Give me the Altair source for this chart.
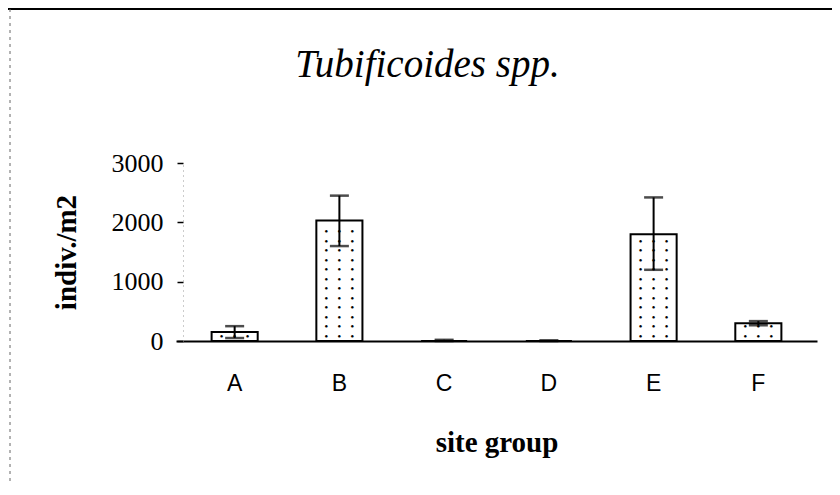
import altair as alt
import pandas as pd

# data
groups = ["A", "B", "C", "D", "E", "F"]
means = [150, 2030, 0, 0, 1800, 300]
err_lo = [50, 1600, 0, 0, 1200, 265]
err_hi = [250, 2450, 20, 10, 2420, 335]
y_ticks = [0, 1000, 2000, 3000]
title_text = "Tubificoides spp."

df = pd.DataFrame({"group": groups, "mean": means, "lo": err_lo, "hi": err_hi})

# stipple dots derived from bar heights
dot_rows = []
for g, m in zip(groups, means):
    level = 90
    while level < m - 40:
        dot_rows.append({"group": g, "lev": level})
        level += 160
dots = pd.DataFrame(dot_rows)

W, H = 641, 178
serif = "Liberation Serif"
sans = "Liberation Sans"

x = alt.X(
    "group:N",
    sort=groups,
    scale=alt.Scale(paddingInner=0.56, paddingOuter=0.34),
    axis=alt.Axis(
        title="site group",
        titleFont=serif,
        titleFontSize=29,
        titleFontWeight="bold",
        titleColor="black",
        titlePadding=33,
        labelFont=sans,
        labelFontSize=23,
        labelColor="black",
        labelAngle=0,
        labelPadding=31,
        ticks=False,
        grid=False,
        domainColor="black",
        domainWidth=2,
    ),
)

y = alt.Y(
    "mean:Q",
    scale=alt.Scale(domain=[0, 3000], nice=False),
    axis=alt.Axis(
        title="indiv./m2",
        titleFont=serif,
        titleFontSize=29,
        titleFontWeight="bold",
        titleColor="black",
        titlePadding=30,
        values=y_ticks,
        format="d",
        labelFont=serif,
        labelFontSize=26,
        labelColor="black",
        labelPadding=14,
        tickColor="black",
        tickSize=6,
        tickWidth=1.5,
        domainColor="#999999",
        domainDash=[1, 4],
        domainWidth=1,
        grid=False,
        offset=-7,
    ),
)

xs = alt.X("group:N", sort=groups)
base = alt.Chart(df)

bars = base.mark_bar(fill="white", stroke="black", strokeWidth=2).encode(x=x, y=y)

dot_layers = []
for dxv in (-13, 0, 13):
    dot_layers.append(
        alt.Chart(dots)
        .mark_text(text="●", fontSize=6, color="black", dx=dxv)
        .encode(x=xs, y=alt.Y("lev:Q"))
    )

rule = base.mark_rule(color="black", strokeWidth=2).encode(x=xs, y="lo:Q", y2="hi:Q")
cap_hi = base.mark_tick(color="black", thickness=2.5, size=19, orient="horizontal").encode(x=xs, y="hi:Q")
cap_lo = base.mark_tick(color="black", thickness=2.5, size=19, orient="horizontal").encode(x=xs, y="lo:Q")

one = pd.DataFrame({"k": [0]})
title_mark = alt.Chart(one).mark_text(
    text=title_text,
    font=serif,
    fontSize=39,
    fontStyle="italic",
    color="black",
    align="center",
    baseline="alphabetic",
).encode(x=alt.value(W / 2 - 69), y=alt.value(-86))

frame_top = alt.Chart(one).mark_rule(color="black", strokeWidth=2).encode(
    x=alt.value(-168), x2=alt.value(W + 20), y=alt.value(-154)
)
frame_left = alt.Chart(one).mark_rule(color="#666666", strokeWidth=1, strokeDash=[3, 4]).encode(
    x=alt.value(-166), y=alt.value(-154), y2=alt.value(H + 150)
)

chart = (
    alt.layer(bars, *dot_layers, rule, cap_hi, cap_lo, title_mark, frame_top, frame_left)
    .properties(
        width=W,
        height=H,
        background="white",
        padding={"left": 168, "top": 155, "right": 15, "bottom": 140},
        autosize=alt.AutoSizeParams(type="none"),
    )
    .configure_view(stroke=None, strokeWidth=0)
    .configure_axis(grid=False)
)

chart.save("out.html", embed_options={"renderer": "svg", "actions": False})
